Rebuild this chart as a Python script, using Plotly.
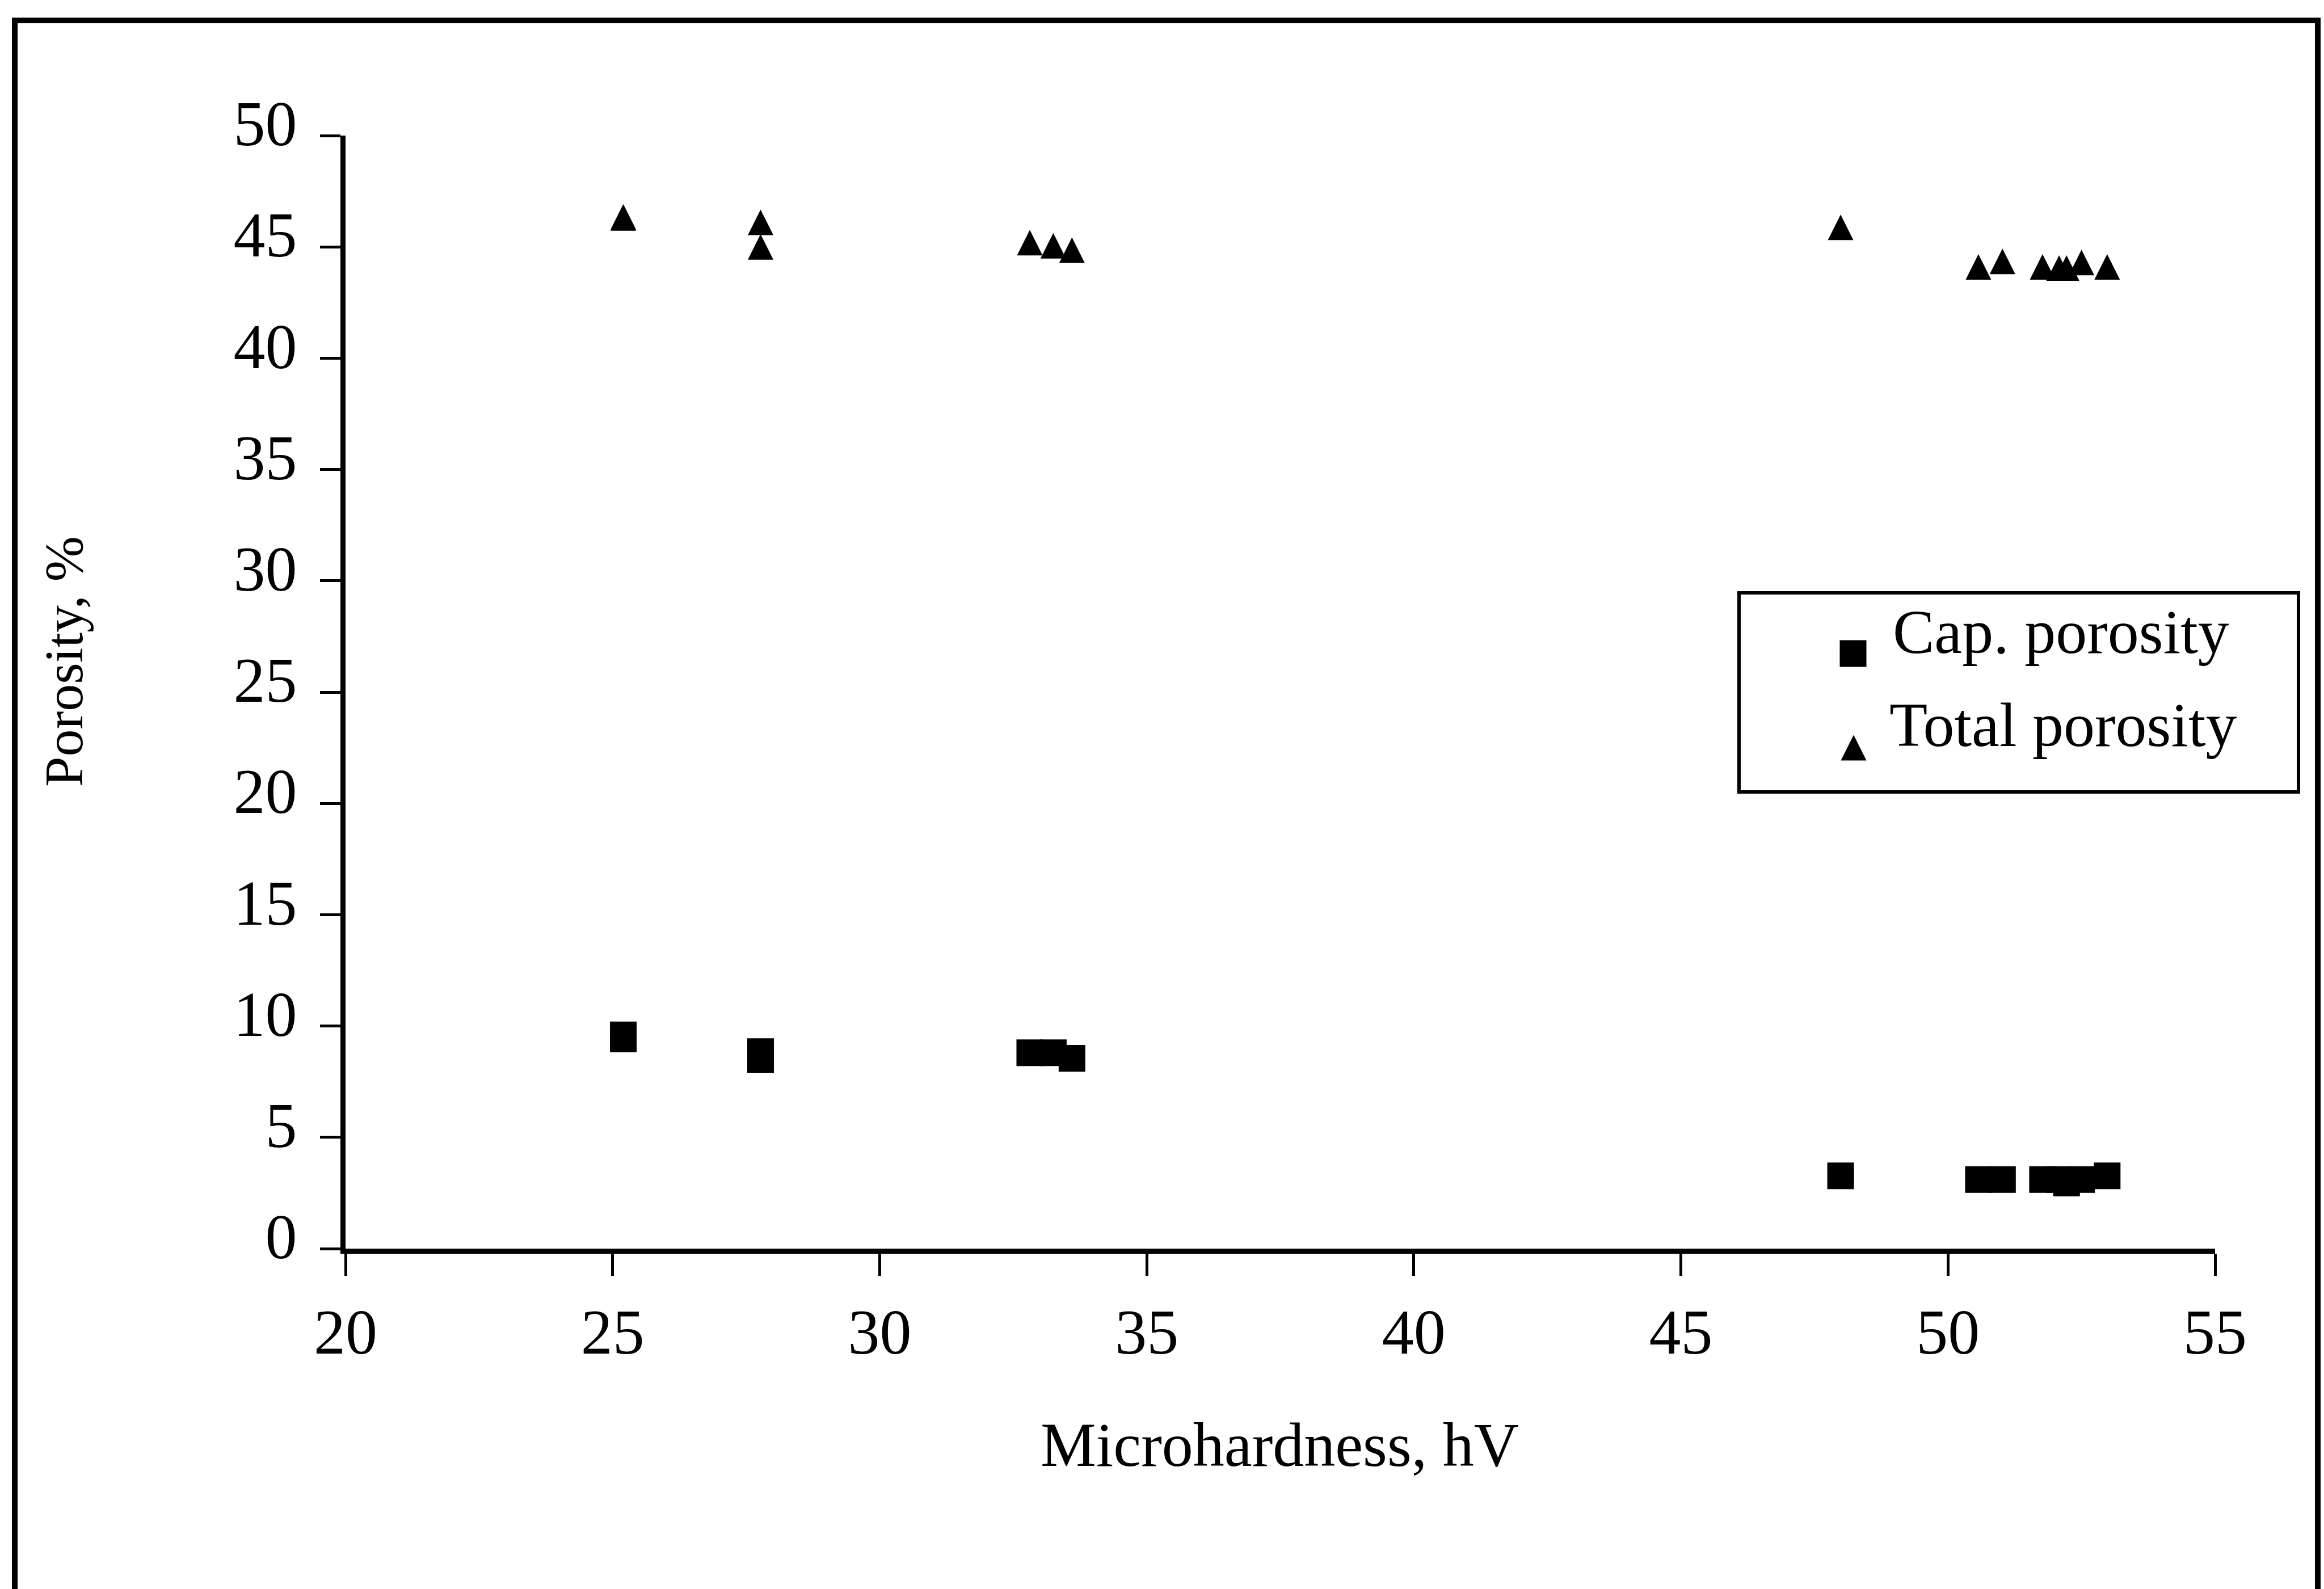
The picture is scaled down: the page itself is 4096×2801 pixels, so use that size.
import plotly.graph_objects as go

# ---- data ----
hardness = [25.20, 25.20, 27.77, 27.77, 32.81, 33.25, 33.60, 47.99,
            50.57, 51.02, 51.77, 52.08, 52.22, 52.50, 52.98]
cap_porosity = [9.60, 9.42, 8.85, 8.50, 8.80, 8.80, 8.55, 3.27,
                3.10, 3.10, 3.10, 3.10, 2.95, 3.10, 3.27]
total_porosity = [46.35, 46.30, 46.10, 45.00, 45.19, 45.05, 44.85, 45.88,
                  44.10, 44.35, 44.10, 44.05, 44.05, 44.30, 44.10]
series_names = ["Cap. porosity", "Total porosity"]
x_ticks = [20, 25, 30, 35, 40, 45, 50, 55]
y_ticks = [0, 5, 10, 15, 20, 25, 30, 35, 40, 45, 50]
x_title = "Microhardness, hV"
y_title = "Porosity, %"

# ---- geometry (output pixels) ----
W, H = 4096, 2801
L, R, T, B = 609, 3904, 239, 2201
PW, PH = R - L, B - T
FONT = "Liberation Serif"


def px(x):
    return (x - L) / PW


def py(y):
    return (B - y) / PH


SQ = 47
TRI = 45

fig = go.Figure()
fig.add_trace(go.Scatter(
    x=hardness, y=cap_porosity, mode="markers", name=series_names[0],
    marker=dict(symbol="square", size=SQ, color="black", line=dict(width=0)),
    showlegend=False))
# arrow-down rotated 180 deg with a standoff of half its size gives an
# upward triangle (width == height == size) centred on the data point
fig.add_trace(go.Scatter(
    x=hardness, y=total_porosity, mode="markers", name=series_names[1],
    marker=dict(symbol="arrow-down", angle=180, size=TRI, color="black",
                standoff=TRI / 2, line=dict(width=0)),
    showlegend=False))

axis_common = dict(showgrid=False, zeroline=False, showline=True, linewidth=9,
                   linecolor="black", ticks="outside", tickwidth=5,
                   tickcolor="black", mirror=False,
                   tickfont=dict(family=FONT, size=112, color="black"))
fig.update_xaxes(range=[x_ticks[0], x_ticks[-1]], tickvals=x_ticks,
                 ticktext=[str(v) for v in x_ticks], ticklen=39,
                 ticklabelstandoff=3, **axis_common)
fig.update_yaxes(range=[y_ticks[0], y_ticks[-1]], tickvals=y_ticks,
                 ticktext=[str(v) for v in y_ticks], ticklen=36,
                 ticklabelstandoff=18, ticklabelshift=-22, **axis_common)

shapes = []
# outer frame
shapes.append(dict(type="rect", xref="paper", yref="paper",
                   x0=px(26), x1=px(4085), y0=py(2835), y1=py(36),
                   line=dict(color="black", width=10), fillcolor="rgba(0,0,0,0)",
                   layer="below"))
# legend box
shapes.append(dict(type="rect", xref="paper", yref="paper",
                   x0=px(3065), x1=px(4051), y0=py(1396), y1=py(1045),
                   line=dict(color="black", width=6), fillcolor="white",
                   layer="above"))
# legend square
sx, sy = 3266, 1152
shapes.append(dict(type="rect", xref="paper", yref="paper",
                   x0=px(sx - SQ / 2), x1=px(sx + SQ / 2),
                   y0=py(sy + SQ / 2), y1=py(sy - SQ / 2),
                   line=dict(width=0), fillcolor="black", layer="above"))
# legend triangle
tx, ty = 3267, 1318
path = "M {:.5f},{:.5f} L {:.5f},{:.5f} L {:.5f},{:.5f} Z".format(
    px(tx), py(ty - TRI / 2), px(tx - TRI / 2), py(ty + TRI / 2),
    px(tx + TRI / 2), py(ty + TRI / 2))
shapes.append(dict(type="path", xref="paper", yref="paper", path=path,
                   line=dict(width=0), fillcolor="black", layer="above"))

annotations = [
    dict(text=series_names[0], xref="paper", yref="paper", x=px(3334), y=py(1114),
         xanchor="left", yanchor="middle", showarrow=False,
         font=dict(family=FONT, size=110, color="black")),
    dict(text=series_names[1], xref="paper", yref="paper", x=px(3328), y=py(1278),
         xanchor="left", yanchor="middle", showarrow=False,
         font=dict(family=FONT, size=110, color="black")),
    dict(text=x_title, xref="paper", yref="paper", x=px(2255), y=py(2547),
         xanchor="center", yanchor="middle", showarrow=False,
         font=dict(family=FONT, size=110, color="black")),
    dict(text=y_title, xref="paper", yref="paper", x=px(112), y=py(1166),
         xanchor="center", yanchor="middle", showarrow=False, textangle=-90,
         font=dict(family=FONT, size=96, color="black")),
]

fig.update_layout(width=W, height=H, margin=dict(l=L, r=W - R, t=T, b=H - B),
                  paper_bgcolor="white", plot_bgcolor="white",
                  shapes=shapes, annotations=annotations, showlegend=False)

fig.write_html("out.html")
